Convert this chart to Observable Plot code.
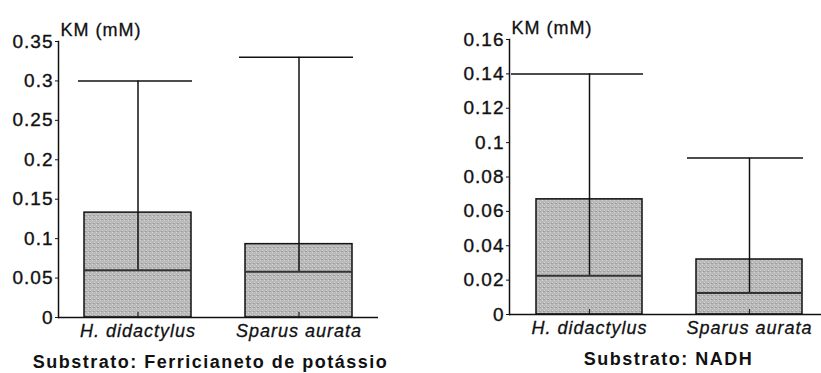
<!DOCTYPE html>
<html>
<head>
<meta charset="utf-8">
<script src="https://cdn.jsdelivr.net/npm/d3@7"></script>
<script src="https://cdn.jsdelivr.net/npm/@observablehq/plot@0.6"></script>
<style>
  html, body { margin: 0; padding: 0; background: #fff; }
  #wrap { display: flex; width: 821px; height: 373px; }
  svg { font-family: "Liberation Sans", Arial, sans-serif; }
  g[aria-label="y-axis tick label"] text { letter-spacing: 1px; stroke: #111; stroke-width: 0.35px; }
  g[aria-label="x-axis tick label"] text { letter-spacing: 1px; stroke: #111; stroke-width: 0.3px; }
  .ylab text { letter-spacing: 1px; stroke: #111; stroke-width: 0.3px; }
  .subt text { letter-spacing: 1.5px; }
</style>
</head>
<body>
<div id="wrap"></div>
<script>
// ---- data ----
const categories = ["H. didactylus", "Sparus aurata"];

const ferriBar = [0.133, 0.093];
const ferriMedian = [0.060, 0.058];
const ferriMax = [0.300, 0.330];
const ferriTicks = [0, 0.05, 0.1, 0.15, 0.2, 0.25, 0.3, 0.35];

const nadhBar = [0.067, 0.032];
const nadhMedian = [0.0225, 0.0125];
const nadhMax = [0.140, 0.091];
const nadhTicks = [0, 0.02, 0.04, 0.06, 0.08, 0.1, 0.12, 0.14, 0.16];

const yLabel = "KM (mM)";
const subtitles = ["Substrato: Ferricianeto de potássio", "Substrato: NADH"];

const fmt = d => d === 0 ? "0" : String(+d.toFixed(2));

function panel(o) {
  const data = categories.map((c, i) => ({cat: c, bar: o.bar[i], med: o.med[i], max: o.max[i]}));
  const pid = "stipple" + o.id;
  const svg = Plot.plot({
    width: o.width, height: 373,
    marginLeft: o.ml, marginRight: o.mr, marginTop: o.mt, marginBottom: o.mb,
    style: {background: "white", overflow: "visible", fontFamily: "Liberation Sans, Arial, sans-serif"},
    x: {domain: categories, paddingInner: 0.335, paddingOuter: o.po, align: o.align, label: null},
    y: {domain: [0, o.ticks[o.ticks.length - 1]], label: null},
    marks: [
      Plot.barY(data, {x: "cat", y: "bar", fill: `url(#${pid})`, stroke: "#111", strokeWidth: 1.5}),
      Plot.ruleX(data, {x: "cat", y1: "med", y2: "max", stroke: "#111", strokeWidth: 1.5}),
      Plot.tickY(data, {x: "cat", y: "med", stroke: "#333", strokeWidth: 2}),
      Plot.tickY(data, {filter: (d, i) => i === 0, x: "cat", y: "max", stroke: "#111", strokeWidth: 1.5, insetLeft: -o.cap[0], insetRight: -1}),
      Plot.tickY(data, {filter: (d, i) => i === 1, x: "cat", y: "max", stroke: "#111", strokeWidth: 1.5, insetLeft: -o.cap[1], insetRight: -1}),
      Plot.ruleX(data, {x: "cat", y1: 0, y2: 0, insetTop: -5, stroke: "#222", strokeWidth: 1.2}),
      Plot.ruleY([0], {stroke: "#111", strokeWidth: 1.5}),
      Plot.frame({anchor: "left", stroke: "#111", strokeWidth: 1.5}),
      Plot.axisY({ticks: o.ticks, tickFormat: fmt, tickSize: 3, tickPadding: 2, fontSize: 19, stroke: "#111", color: "#111"}),
      Plot.axisX({tickSize: 0, tickPadding: 7, fontSize: 18, fontStyle: "italic", color: "#111"}),
      Plot.text([yLabel], {frameAnchor: "top-left", dx: 2, dy: -6, textAnchor: "start", lineAnchor: "bottom", fontSize: 18, fill: "#111", className: "ylab"}),
      Plot.text([o.subtitle], {frameAnchor: "bottom", dx: o.sdx, dy: 50, lineAnchor: "bottom", fontSize: 18, fontWeight: "bold", fill: "#111", className: "subt"})
    ]
  });
  const defs = d3.select(svg).insert("defs", ":first-child");
  const p = defs.append("pattern").attr("id", pid).attr("patternUnits", "userSpaceOnUse").attr("width", 4).attr("height", 4);
  p.append("rect").attr("width", 4).attr("height", 4).attr("fill", "#b9b9b9");
  p.append("rect").attr("x", 0).attr("y", 0).attr("width", 1).attr("height", 1).attr("fill", "#d6d6d6");
  p.append("rect").attr("x", 2).attr("y", 2).attr("width", 1).attr("height", 1).attr("fill", "#d6d6d6");
  p.append("rect").attr("x", 1).attr("y", 3).attr("width", 2).attr("height", 1).attr("fill", "#9e9e9e");
  return svg;
}

const wrap = document.getElementById("wrap");
wrap.appendChild(panel({
  id: 1, width: 410, ml: 58, mr: 32, mt: 41, mb: 56, po: 0.16, align: 0.5,
  bar: ferriBar, med: ferriMedian, max: ferriMax, ticks: ferriTicks,
  subtitle: subtitles[0], sdx: -8, cap: [6, 6]
}));
wrap.appendChild(panel({
  id: 2, width: 411, ml: 99, mr: 0, mt: 39, mb: 59, po: 0.14, align: 0.6,
  bar: nadhBar, med: nadhMedian, max: nadhMax, ticks: nadhTicks,
  subtitle: subtitles[1], sdx: 3, cap: [25, 9]
}));
</script>
</body>
</html>
